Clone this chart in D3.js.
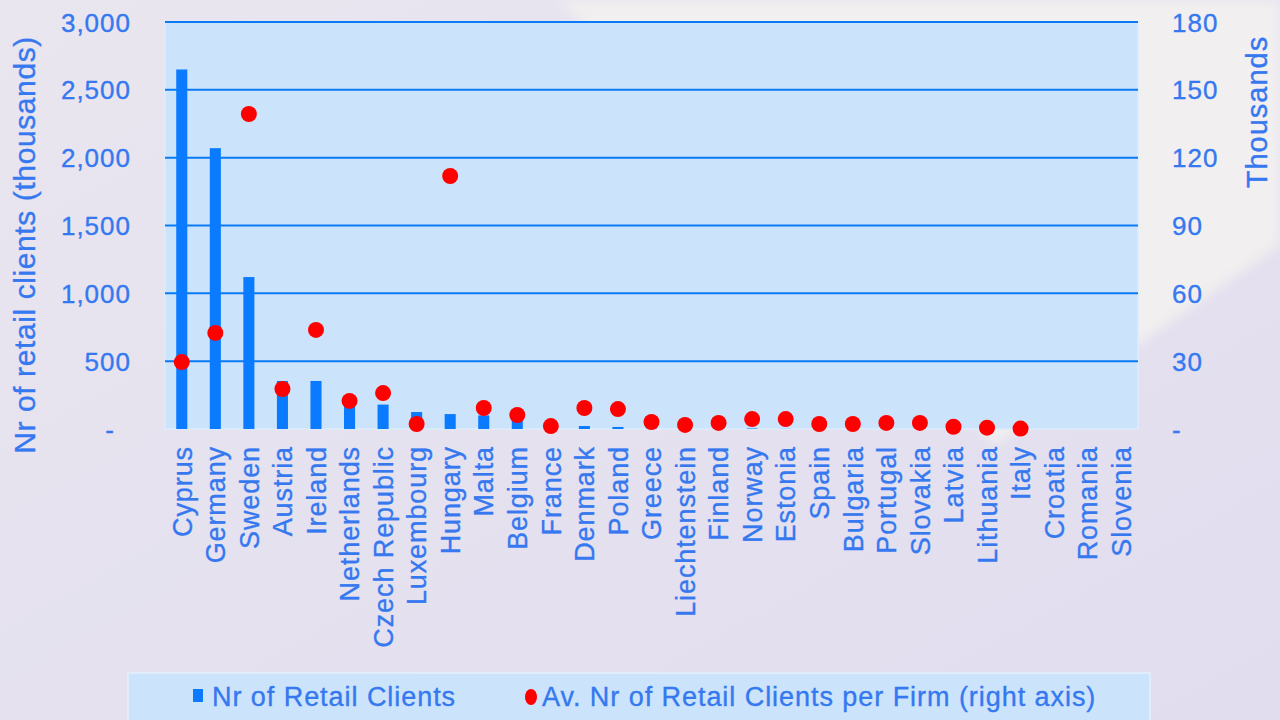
<!DOCTYPE html>
<html>
<head>
<meta charset="utf-8">
<script src="https://cdn.jsdelivr.net/npm/d3@7"></script>
<style>
  html, body { margin: 0; padding: 0; }
  body { width: 1280px; height: 720px; overflow: hidden; }
</style>
</head>
<body>
<div id="chart"></div>
<script>
// values
const countries = ["Cyprus","Germany","Sweden","Austria","Ireland","Netherlands","Czech Republic",
  "Luxembourg","Hungary","Malta","Belgium","France","Denmark","Poland","Greece","Liechtenstein",
  "Finland","Norway","Estonia","Spain","Bulgaria","Portugal","Slovakia","Latvia","Lithuania",
  "Italy","Croatia","Romania","Slovenia"];
// Nr of retail clients (thousands), left axis
const retailClients = [2650, 2070, 1120, 354, 354, 220, 180, 125, 110, 100, 70, 5, 22, 15,
  3, 1, 3, 4, 1, 1, 1, 2, 1, 1, 1, 0, 0, 0, 0];
// Av. nr of retail clients per firm (thousands), right axis
const clientsPerFirm = [29.6, 42.5, 139.3, 17.7, 43.8, 12.4, 15.9, 2.2, 111.9, 9.3, 6.2, 1.3,
  9.3, 8.8, 3.1, 1.8, 2.7, 4.4, 4.4, 2.2, 2.2, 2.7, 2.7, 1.0, 0.6, 0.2, null, null, null];
const leftTicks = [0, 500, 1000, 1500, 2000, 2500, 3000];
const rightTicks = [0, 30, 60, 90, 120, 150, 180];

const W = 1280, H = 720;
const plot = { left: 165, right: 1138, top: 22, bottom: 429 };
const BLUE = "#0a7af5", TXT = "#3578f0", FONT = "'Liberation Sans', Arial, sans-serif";

const svg = d3.select("#chart").append("svg")
  .attr("width", W).attr("height", H).attr("viewBox", `0 0 ${W} ${H}`);

// background
const defs = svg.append("defs");
const bg = defs.append("linearGradient").attr("id","bg").attr("x1","0%").attr("y1","0%").attr("x2","100%").attr("y2","100%");
bg.append("stop").attr("offset","0%").attr("stop-color","#e9e6ef");
bg.append("stop").attr("offset","100%").attr("stop-color","#e1ddef");
defs.append("filter").attr("id","soft").append("feGaussianBlur").attr("stdDeviation",6);
svg.append("rect").attr("width",W).attr("height",H).attr("fill","url(#bg)");
svg.append("polygon")
  .attr("points","560,0 1280,0 1280,245 995,445")
  .attr("fill","#f1efef").attr("filter","url(#soft)");

const x = d3.scaleBand().domain(countries).range([plot.left, plot.right]).paddingInner(0.67).paddingOuter(0.335);
const yL = d3.scaleLinear().domain([0, 3000]).range([plot.bottom, plot.top]);
const yR = d3.scaleLinear().domain([0, 180]).range([plot.bottom, plot.top]);

// plot area
svg.append("rect").attr("x",plot.left).attr("y",plot.top)
  .attr("width",plot.right-plot.left).attr("height",plot.bottom-plot.top)
  .attr("fill","#cce4fb").attr("stroke","#dcedfc").attr("stroke-width",1.5);

// gridlines
svg.append("g").selectAll("line").data(leftTicks.filter(d => d > 0)).join("line")
  .attr("x1",plot.left).attr("x2",plot.right)
  .attr("y1",d=>yL(d)).attr("y2",d=>yL(d))
  .attr("stroke",BLUE).attr("stroke-width",2);

// bars
svg.append("g").selectAll("rect").data(countries).join("rect")
  .attr("x",d=>x(d)).attr("width",x.bandwidth())
  .attr("y",(d,i)=>yL(retailClients[i]))
  .attr("height",(d,i)=>yL(0)-yL(retailClients[i]))
  .attr("fill","#0a7bff");

// dots
svg.append("g").selectAll("circle")
  .data(countries.map((c,i)=>({c, v: clientsPerFirm[i]})).filter(d=>d.v!==null)).join("circle")
  .attr("cx",d=>x(d.c)+x.bandwidth()/2).attr("cy",d=>yR(d.v))
  .attr("r",8).attr("fill","#ff0000");

const txt = (sel, ls) => sel.attr("fill",TXT).attr("stroke",TXT).attr("stroke-width",0.35)
  .style("font-family",FONT).style("letter-spacing",(ls ?? 0.6)+"px");

// left axis
const gl = svg.append("g").attr("transform",`translate(${plot.left},0)`)
  .call(d3.axisLeft(yL).tickValues(leftTicks).tickSize(0).tickPadding(34)
    .tickFormat(d => d === 0 ? "-" : d3.format(",")(d)));
gl.select(".domain").remove();
gl.selectAll("text").call(txt, 1).style("font-size","26px").attr("dy","0.35em");
gl.selectAll(".tick").filter(d=>d===0).select("text").attr("x",-50);

// right axis
const gr = svg.append("g").attr("transform",`translate(${plot.right},0)`)
  .call(d3.axisRight(yR).tickValues(rightTicks).tickSize(0).tickPadding(34)
    .tickFormat(d => d === 0 ? "-" : d));
gr.select(".domain").remove();
gr.selectAll("text").call(txt, 1).style("font-size","26px").attr("dy","0.35em");

// category labels
svg.append("g").selectAll("text").data(countries).join("text")
  .attr("transform",d=>`translate(${x(d)+x.bandwidth()/2},446) rotate(-90)`)
  .attr("text-anchor","end").attr("dy","0.36em")
  .style("font-size","27px").call(txt, 0.9)
  .text(d=>d);

// axis titles
svg.append("text").attr("transform",`translate(24,245) rotate(-90)`)
  .attr("text-anchor","middle").attr("dy","0.35em")
  .style("font-size","30px").call(txt, 0.6)
  .text("Nr of retail clients (thousands)");
svg.append("text").attr("transform",`translate(1257,112) rotate(-90)`)
  .attr("text-anchor","middle").attr("dy","0.35em")
  .style("font-size","29px").call(txt, 1)
  .text("Thousands");

// legend
const lg = svg.append("g");
lg.append("rect").attr("x",128).attr("y",673).attr("width",1022).attr("height",60)
  .attr("fill","#cce4fb").attr("stroke","#e2f0fd").attr("stroke-width",1.5);
lg.append("rect").attr("x",193).attr("y",689).attr("width",10).attr("height",13).attr("fill","#0a7bff");
lg.append("text").attr("x",212).attr("y",697).attr("dy","0.35em")
  .style("font-size","27px").call(txt, 0.95).text("Nr of Retail Clients");
lg.append("ellipse").attr("cx",531).attr("cy",697).attr("rx",6).attr("ry",8).attr("fill","#ff0000");
lg.append("text").attr("x",542).attr("y",697).attr("dy","0.35em")
  .style("font-size","27px").call(txt, 0.95).text("Av. Nr of Retail Clients per Firm (right axis)");
</script>
</body>
</html>
